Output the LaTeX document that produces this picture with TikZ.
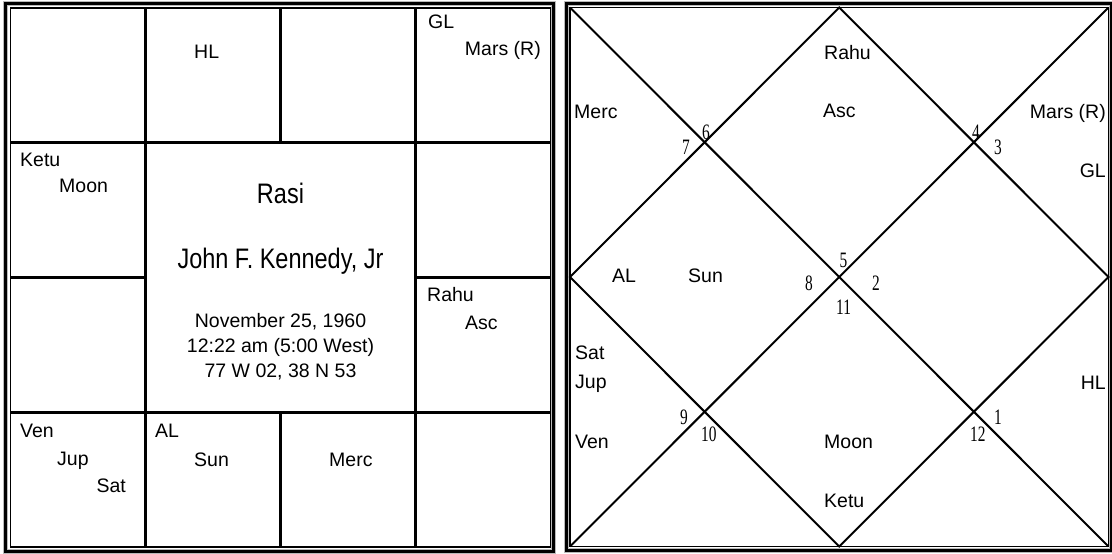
\documentclass[tikz,border=0pt]{standalone}
\usepackage{fontspec}
\setmainfont{Liberation Sans}
\newfontfamily\numfont{Liberation Serif}
\usetikzlibrary{calc}
\newcommand{\nar}[1]{\scalebox{0.7}[1]{#1}}
\newcommand{\tall}[1]{\scalebox{1}[1.2]{#1}}

\begin{document}
\begin{tikzpicture}[
  x=1pt,y=-1pt,
  frame/.style={line width=3pt,preaction={draw=gray!55,line width=5pt}},
  inframe/.style={line width=1.8pt},
  grid/.style={line width=2.6pt},
  diag/.style={line width=2pt},
  lbl/.style={inner sep=0pt,font=\fontsize{19.5}{22}\selectfont},
  big/.style={inner sep=0pt,font=\fontsize{23.5}{28}\selectfont},
  num/.style={inner sep=0pt,font=\numfont\fontsize{22}{24}\selectfont}
]
\useasboundingbox (0,0) rectangle (1112,554);
\fill[white] (0,0) rectangle (1112,554);

% south chart
\draw[frame] (5.5,3.5) rectangle (553.5,551);
\draw[inframe] (10.5,8) rectangle (550.5,547);
\draw[grid] (145.5,8) -- (145.5,547);
\draw[grid] (415.5,8) -- (415.5,547);
\draw[grid] (10.5,142.75) -- (550.5,142.75);
\draw[grid] (10.5,412.25) -- (550.5,412.25);
\draw[grid] (10.5,277.5) -- (145.5,277.5);
\draw[grid] (415.5,277.5) -- (550.5,277.5);
\draw[grid] (280.5,8) -- (280.5,142.75);
\draw[grid] (280.5,412.25) -- (280.5,547);

\node[lbl,anchor=base west] (shl) at (194,58) {HL};
\node[lbl,anchor=base west] (sgl) at (428,28) {GL};
\node[lbl,anchor=base east] (smars) at (541,56) {Mars (R)};
\node[lbl,anchor=base west] (sketu) at (20,166) {Ketu};
\node[lbl,anchor=base west] (smoon) at (59,192) {Moon};
\node[lbl,anchor=base west] (srahu) at (427,301) {Rahu};
\node[lbl,anchor=base west] (sasc) at (465,329) {Asc};
\node[lbl,anchor=base west] (sven) at (20,437) {Ven};
\node[lbl,anchor=base west] (sjup) at (57,465) {Jup};
\node[lbl,anchor=base east] (ssat) at (126,492) {Sat};
\node[lbl,anchor=base west] (sal) at (155,437) {AL};
\node[lbl,anchor=base west] (ssun) at (194,466) {Sun};
\node[lbl,anchor=base west] (smerc) at (329,466) {Merc};

\node[big,anchor=base] (rasi) at (280.5,203) {\tall{Rasi}};
\node[big,anchor=base] (name) at (280.5,268) {\tall{John F. Kennedy, Jr}};
\node[lbl,anchor=base] (date) at (280.5,327) {November 25, 1960};
\node[lbl,anchor=base] (time) at (280.5,352) {12:22 am (5:00 West)};
\node[lbl,anchor=base] (place) at (280.5,377) {77 W 02, 38 N 53};

% north chart
\coordinate (nw) at (570,7.5);
\coordinate (ne) at (1108.5,7.5);
\coordinate (se) at (1108.5,546.5);
\coordinate (sw) at (570,546.5);
\coordinate (nt) at ($(nw)!.5!(ne)$);
\coordinate (nr) at ($(ne)!.5!(se)$);
\coordinate (nb) at ($(sw)!.5!(se)$);
\coordinate (nl) at ($(nw)!.5!(sw)$);
\draw[frame] (566,3) rectangle (1111,550.5);
\draw[inframe] (nw) rectangle (se);
\draw[diag] (nw) -- (se);
\draw[diag] (ne) -- (sw);
\draw[diag] (nt) -- (nr) -- (nb) -- (nl) -- cycle;

\node[num,anchor=base] (h6) at (706,139) {\nar{6}};
\node[num,anchor=base east] (h7) at (690,154) {\nar{7}};
\node[num,anchor=base] (h4) at (976,139) {\nar{4}};
\node[num,anchor=base west] (h3) at (994,154) {\nar{3}};
\node[num,anchor=base west] (h5) at (839.5,267) {\nar{5}};
\node[num,anchor=base east] (h8) at (813,290) {\nar{8}};
\node[num,anchor=base west] (h2) at (872,290) {\nar{2}};
\node[num,anchor=base west] (h11) at (836,314) {\nar{11}};
\node[num,anchor=base east] (h9) at (688,424) {\nar{9}};
\node[num,anchor=base west] (h10) at (701,441) {\nar{10}};
\node[num,anchor=base west] (h1) at (994,424) {\nar{1}};
\node[num,anchor=base west] (h12) at (970,441) {\nar{12}};

\node[lbl,anchor=base west] (nrahu) at (824,59) {Rahu};
\node[lbl,anchor=base west] (nasc) at (823,117) {Asc};
\node[lbl,anchor=base west] (nmerc) at (574,118) {Merc};
\node[lbl,anchor=base east] (nmars) at (1106,118) {Mars (R)};
\node[lbl,anchor=base east] (ngl) at (1106,177) {GL};
\node[lbl,anchor=base west] (nal) at (612,282) {AL};
\node[lbl,anchor=base west] (nsun) at (688,282) {Sun};
\node[lbl,anchor=base west] (nsat) at (575,359) {Sat};
\node[lbl,anchor=base west] (njup) at (575,388) {Jup};
\node[lbl,anchor=base west] (nven) at (575,448) {Ven};
\node[lbl,anchor=base west] (nmoon) at (824,448) {Moon};
\node[lbl,anchor=base west] (nketu) at (824,507) {Ketu};
\node[lbl,anchor=base east] (nhl) at (1106,389) {HL};
\end{tikzpicture}
\end{document}
